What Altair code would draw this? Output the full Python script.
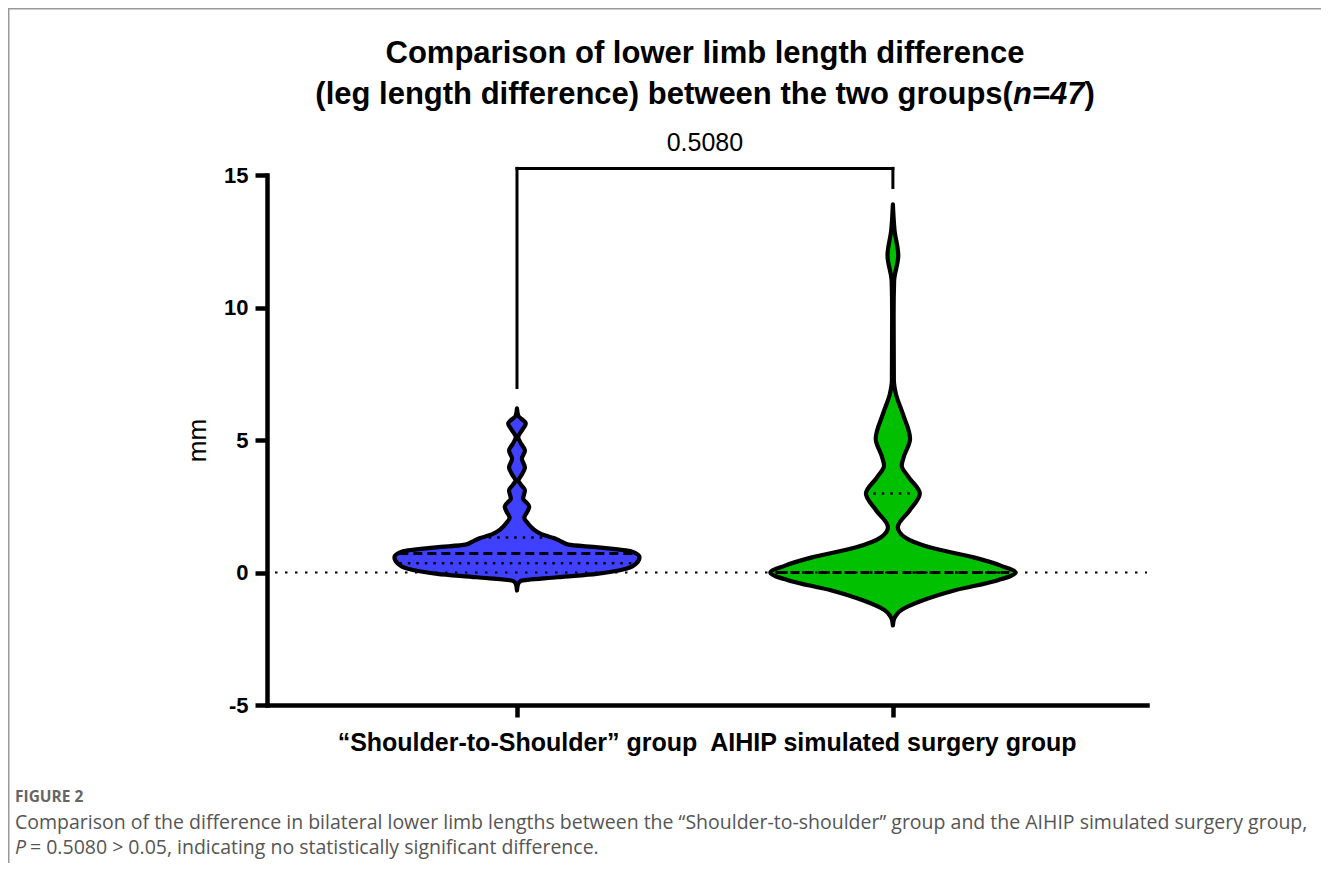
import altair as alt
import pandas as pd

# ---------------- data ----------------
groups = ["\u201cShoulder-to-Shoulder\u201d group", "AIHIP simulated surgery group"]
colors = ["#4040FF", "#00C000"]

# violin profiles: value (mm) and relative density (half-width, max = 1)
blue_mm = [-0.68, -0.45, -0.32, -0.18, -0.05, 0.14, 0.35, 0.58, 0.8, 0.95, 1.05, 1.15, 1.3, 1.45,
           1.65, 1.85, 2.07, 2.3, 2.49, 2.65, 2.78, 3.1, 3.3, 3.47, 3.7, 3.96, 4.3, 4.6, 4.85, 5.1,
           5.4, 5.62, 5.92, 6.19]
blue_density = [0.0, 0.008, 0.03, 0.33, 0.65, 0.89, 0.975, 1.0, 0.93, 0.66, 0.42, 0.37, 0.3, 0.2,
                0.13, 0.09, 0.06, 0.085, 0.1, 0.075, 0.05, 0.065, 0.035, 0.012, 0.04, 0.065, 0.04,
                0.065, 0.035, 0.01, 0.045, 0.072, 0.01, 0.0]

green_mm = [-2.0, -1.75, -1.62, -1.43, -1.06, -0.68, -0.3, 0.0, 0.26, 0.57, 0.95, 1.32, 1.71, 2.34,
            2.98, 3.6, 4.04, 4.35, 5.05, 6.0, 6.75, 7.25, 9.77, 11.0, 11.96, 12.9, 13.89]
green_density = [0.0, 0.01, 0.025, 0.065, 0.24, 0.5, 0.85, 1.0, 0.88, 0.66, 0.3, 0.1, 0.04, 0.136,
                 0.22, 0.128, 0.072, 0.088, 0.14, 0.08, 0.024, 0.008, 0.006, 0.01, 0.044, 0.014, 0.0]

medians = [0.72, 0.0]
median_density = [0.96, 0.95]
q1 = [0.35, 0.0]
q1_density = [0.96, 0.95]
q3 = [1.32, 2.98]
q3_density = [0.3, 0.16]

p_value = "0.5080"
bracket_top = 15.25
bracket_left_end = 6.98
bracket_right_end = 14.53
p_label_y = 16.2

title_line1 = "Comparison of lower limb length difference"
title_line2a = "(leg length difference) between the two groups("
title_line2n = "n=47"
title_line2c = ")"
y_title = "mm"
y_ticks = [-5, 0, 5, 10, 15]

caption_head = "FIGURE 2"
caption_line1 = ("Comparison of the difference in bilateral lower limb lengths between the "
                 "\u201cShoulder-to-shoulder\u201d group and the AIHIP simulated surgery group,")
caption_p = "P"
caption_line2 = "= 0.5080 > 0.05, indicating no statistically significant difference."

# ---------------- layout / style ----------------
W, H = 880, 530
PAD = {"left": 259, "top": 167, "right": 174, "bottom": 158}
MAXHW = 0.326
FONT = "Liberation Sans"

xs = alt.Scale(domain=[-0.665, 1.676], nice=False, zero=False)
ys = alt.Scale(domain=[-5, 15], nice=False, zero=False)

label_expr = f"datum.value < 0.5 ? '{groups[0]}' : '{groups[1]}'"
xaxis = alt.Axis(values=[0, 1], labelExpr=label_expr, grid=False, title=None,
                 domainColor="black", domainWidth=4.5, domainCap="square",
                 tickColor="black", tickWidth=4.5, tickSize=12,
                 labelFont=FONT, labelFontSize=25, labelFontWeight="bold",
                 labelColor="black", labelPadding=13, labelLimit=600)
yaxis = alt.Axis(values=y_ticks, labelExpr="replace(datum.label, '\u2212', '-')", grid=False,
                 domainColor="black", domainWidth=4.5, domainCap="square",
                 tickColor="black", tickWidth=4.5, tickSize=12,
                 labelFont=FONT, labelFontSize=22, labelFontWeight="bold",
                 labelColor="black", labelPadding=7,
                 title=y_title, titleFont=FONT, titleFontSize=26, titleFontWeight="normal",
                 titleColor="black", titleAngle=270, titleX=-70, titleY=H / 2,
                 titleAlign="center", titleBaseline="middle")


def X(field):
    return alt.X(field, type="quantitative", scale=xs, axis=xaxis)


def Y(field):
    return alt.Y(field, type="quantitative", scale=ys, axis=yaxis)


# violin table (sorted by value inside each group)
rows = []
for gi, (mm, dens) in enumerate([(blue_mm, blue_density), (green_mm, green_density)]):
    for v, d in zip(mm, dens):
        rows.append({"group": groups[gi], "v": v, "lo": gi - d * MAXHW, "hi": gi + d * MAXHW})
violin_df = pd.DataFrame(rows)

violins = alt.Chart(violin_df).mark_area(
    orient="horizontal", interpolate="monotone", stroke="black", strokeWidth=4.2,
    strokeJoin="round", fillOpacity=1
).encode(
    y=Y("v"), x=X("lo"), x2="hi",
    color=alt.Color("group:N", scale=alt.Scale(domain=groups, range=colors), legend=None),
)


def stat_df(vals, dens):
    return pd.DataFrame({"v": vals,
                         "lo": [i - d * MAXHW for i, d in enumerate(dens)],
                         "hi": [i + d * MAXHW for i, d in enumerate(dens)]})


median_lines = alt.Chart(stat_df(medians, median_density)).mark_rule(
    color="black", strokeWidth=3, strokeDash=[9, 5]
).encode(y=Y("v"), x=X("lo"), x2="hi")

quart_lines = alt.Chart(pd.concat([stat_df(q1, q1_density), stat_df(q3, q3_density)])).mark_rule(
    color="black", strokeWidth=2.5, strokeDash=[2.5, 6]
).encode(y=Y("v"), x=X("lo"), x2="hi")

zero_line = alt.Chart(pd.DataFrame({"v": [0]})).mark_rule(
    color="black", strokeWidth=2, strokeDash=[2.5, 7.5]
).encode(y=Y("v"), x=alt.value(8), x2=alt.value(W))

bracket_df = pd.DataFrame({
    "x0": [0, 0, 1], "x1": [0, 1, 1],
    "y0": [bracket_left_end, bracket_top, bracket_right_end],
    "y1": [bracket_top, bracket_top, bracket_top],
})
bracket = alt.Chart(bracket_df).mark_rule(color="black", strokeWidth=3, strokeCap="square").encode(
    x=X("x0"), x2="x1", y=Y("y0"), y2="y1")

p_text = alt.Chart(pd.DataFrame({"x": [0.5], "y": [p_label_y], "t": [p_value]})).mark_text(
    font=FONT, fontSize=25, color="black", baseline="middle", align="center"
).encode(x=X("x"), y=Y("y"), text="t:N")


def txt(s, x, y, size, weight="normal", style="normal", align="left", color="black", font=FONT):
    return alt.Chart(pd.DataFrame({"t": [s]})).mark_text(
        align=align, baseline="alphabetic", fontSize=size, fontWeight=weight,
        fontStyle=style, font=font, color=color
    ).encode(x=alt.value(x), y=alt.value(y), text="t:N")


# title (Arial/Liberation bold metrics, em units)
TFS = 31
TCX = 438
w_a, w_n, w_c = 22.503 * TFS, 2.307 * TFS, 0.333 * TFS
start = TCX - (w_a + w_n + w_c) / 2
title1 = txt(title_line1, TCX, -112, TFS, weight="bold", align="center")
title2a = txt(title_line2a, start + w_a, -71, TFS, weight="bold", align="right")
title2n = txt(title_line2n, start + w_a, -71, TFS, weight="bold", style="italic")
title2c = txt(title_line2c, start + w_a + w_n, -71, TFS, weight="bold")

CAP = "Open Sans"
CAPFS = 19.5
cap0 = txt(caption_head, -252, 627, 15.5, weight="bold", color="#666666", font=CAP)
cap1 = txt(caption_line1, -252, 654, CAPFS, color="#555555", font=CAP)
cap2p = txt(caption_p, -252, 679, CAPFS, style="italic", color="#555555", font=CAP)
cap2 = txt(caption_line2, -237, 679, CAPFS, color="#555555", font=CAP)

frame_top = alt.Chart(pd.DataFrame({"a": [0]})).mark_rule(color="#999999", strokeWidth=1.5).encode(
    x=alt.value(-PAD["left"]), x2=alt.value(W + PAD["right"]), y=alt.value(-PAD["top"] + 0.75))
frame_left = alt.Chart(pd.DataFrame({"a": [0]})).mark_rule(color="#999999", strokeWidth=1.5).encode(
    x=alt.value(-PAD["left"] + 0.75), y=alt.value(-PAD["top"]), y2=alt.value(H + PAD["bottom"]))

chart = alt.layer(
    violins, median_lines, quart_lines, zero_line, bracket, p_text,
    title1, title2a, title2n, title2c, cap0, cap1, cap2p, cap2, frame_top, frame_left
).properties(
    width=W, height=H, autosize=alt.AutoSizeParams(type="none"), padding=PAD,
    background="white"
).configure_view(strokeOpacity=0)

chart.save("out.html", embed_options={"renderer": "svg", "actions": False})
